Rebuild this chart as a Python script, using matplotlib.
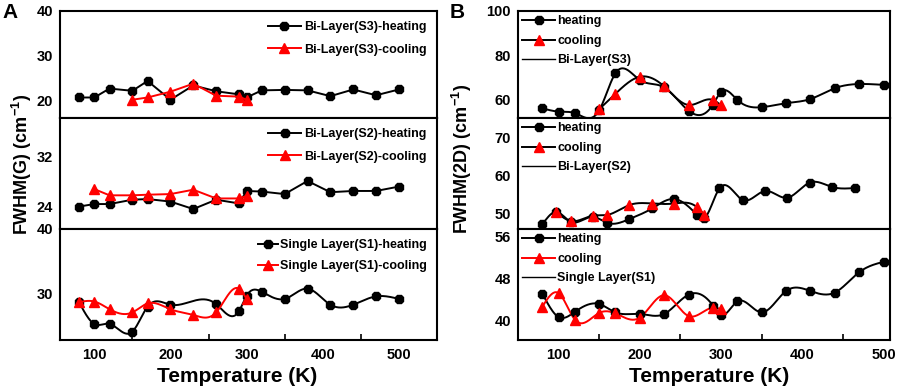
import numpy as np
import matplotlib
matplotlib.use("Agg")
from matplotlib import pyplot as plt
from matplotlib.lines import Line2D

# --- data -------------------------------------------------------------------
temps = [80, 100, 120, 150, 170, 200, 230, 260, 290, 300, 320, 350, 380, 410, 440, 470, 500]
temps_cool = [150, 170, 200, 230, 260, 290, 300]
temps_cool_s2 = [100, 120, 150, 170, 200, 230, 260, 290, 300]
temps_cool_s1 = [80, 100, 120, 150, 170, 200, 230, 260, 290, 300]
temps_s1_heat_g = [80, 100, 120, 150, 170, 200, 260, 290, 300, 320, 350, 380, 410, 440, 470, 500]

# panel A: FWHM(G)
g_s3_heat = [20.6, 20.6, 22.6, 22.1, 24.3, 20.1, 23.3, 22.0, 21.3, 20.6, 22.2, 22.3, 22.2, 20.9, 22.4, 21.1, 22.4]
g_s3_cool = [20.1, 20.6, 21.9, 23.7, 21.0, 20.8, 20.1]
g_s2_heat = [24.0, 24.4, 24.4, 25.1, 25.2, 24.8, 23.6, 25.1, 24.5, 26.5, 26.4, 26.0, 28.1, 26.3, 26.5, 26.5, 27.2]
g_s2_cool = [26.8, 25.8, 25.8, 25.9, 26.0, 26.7, 25.3, 25.3, 25.7]
g_s1_heat = [28.6, 25.2, 25.2, 24.0, 27.9, 28.2, 28.3, 27.2, 29.6, 30.2, 29.1, 30.7, 28.2, 28.2, 29.5, 29.1]
g_s1_cool = [28.6, 28.7, 27.5, 27.0, 28.4, 27.5, 26.6, 27.0, 30.7, 29.1]

# panel B: FWHM(2D)
d_s3_heat = [55.9, 54.4, 53.7, 55.0, 71.8, 68.7, 65.4, 54.8, 57.6, 63.4, 59.7, 56.4, 58.2, 60.1, 65.0, 66.9, 66.5]
d_s3_cool = [55.5, 62.5, 70.2, 65.8, 57.4, 59.7, 57.2]
# S2 curve is drawn on a squeezed temperature scale in the original figure
temps_s2_heat_2d = [80, 97, 115, 142, 160, 187, 215, 242, 270, 279, 298, 327, 354, 381, 409, 436, 465]
temps_s2_cool_2d = [97, 115, 142, 160, 187, 215, 242, 270, 279]
d_s2_heat = [47.1, 50.4, 47.8, 49.1, 47.5, 48.5, 51.3, 53.8, 49.7, 48.7, 56.6, 53.5, 55.9, 54.1, 58.1, 57.0, 56.7]
d_s2_cool = [50.4, 48.0, 49.4, 49.6, 52.2, 52.6, 52.6, 51.7, 49.7]
d_s1_heat = [45.1, 40.6, 41.6, 43.1, 41.5, 41.2, 41.2, 44.9, 42.8, 41.0, 43.6, 41.5, 45.6, 45.6, 45.3, 49.2, 51.2]
d_s1_cool = [42.6, 45.2, 40.1, 41.4, 41.3, 40.5, 44.8, 40.8, 42.4, 42.1]

plt.rcParams["font.family"] = ["Liberation Sans", "DejaVu Sans"]
plt.rcParams["font.weight"] = "bold"
plt.rcParams["mathtext.default"] = "regular"

RED = "#ff0000"
W, H = 899, 389


def smooth(x, y, n=400):
    # natural cubic spline through the points, only for drawing the line
    x = np.asarray(x, float)
    y = np.asarray(y, float)
    k = len(x)
    h = np.diff(x)
    A = np.zeros((k, k))
    b = np.zeros(k)
    A[0, 0] = A[-1, -1] = 1
    for i in range(1, k - 1):
        A[i, i - 1] = h[i - 1]
        A[i, i] = 2 * (h[i - 1] + h[i])
        A[i, i + 1] = h[i]
        b[i] = 6 * ((y[i + 1] - y[i]) / h[i] - (y[i] - y[i - 1]) / h[i - 1])
    M = np.linalg.solve(A, b)
    xs = np.linspace(x[0], x[-1], n)
    idx = np.clip(np.searchsorted(x, xs) - 1, 0, k - 2)
    x0, x1 = x[idx], x[idx + 1]
    hh = x1 - x0
    t0, t1 = x1 - xs, xs - x0
    ys = (M[idx] * t0 ** 3 + M[idx + 1] * t1 ** 3) / (6 * hh) \
        + (y[idx] / hh - M[idx] * hh / 6) * t0 + (y[idx + 1] / hh - M[idx + 1] * hh / 6) * t1
    return xs, ys


def px_axes(fig, left, top, right, bottom):
    return fig.add_axes([left / W, 1 - bottom / H, (right - left) / W, (bottom - top) / H])


def style(ax, xlim, ylim, yticks, bottom):
    ax.set_xlim(*xlim)
    ax.set_ylim(*ylim)
    ax.set_yticks(yticks)
    for s in ax.spines.values():
        s.set_linewidth(1.5)
    ax.tick_params(axis="y", length=0, pad=5, labelsize=10.5)
    ax.set_xticks([100, 200, 300, 400, 500])
    ax.set_xticks([150, 250, 350, 450], minor=True)
    ax.tick_params(axis="x", which="major", length=0, pad=6, labelsize=10.5)
    if bottom:
        ax.tick_params(axis="x", which="minor", direction="in", length=4, width=1.2)
    else:
        ax.tick_params(axis="x", which="minor", length=0)
        ax.set_xticklabels([])


fig = plt.figure(figsize=(W / 100, H / 100), dpi=100)

rows = [(11, 118), (118, 229), (229, 340)]
ax_a = [px_axes(fig, 60, t, 437, b) for t, b in rows]
ax_b = [px_axes(fig, 518, t, 890, b) for t, b in rows]

hk = dict(color="black", marker="8", markersize=6.5, lw=1.4)
ck = dict(marker="^", markersize=7, mfc=RED, mec=RED, lw=1.4)
legA = dict(loc="upper right", frameon=False, handlelength=2.6, handletextpad=0.3,
            labelspacing=0.85, borderaxespad=0.4, prop={"weight": "bold", "size": 9})

# ---- panel A ---------------------------------------------------------------
ax = ax_a[0]
ax.plot(temps, g_s3_heat, label="Bi-Layer(S3)-heating", **hk)
ax.plot(temps_cool, g_s3_cool, color=RED, label="Bi-Layer(S3)-cooling", **ck)
style(ax, (55, 550), (16, 40), [20, 30, 40], False)
ax.legend(**legA)

ax = ax_a[1]
ax.plot(temps, g_s2_heat, label="Bi-Layer(S2)-heating", **hk)
ax.plot(temps_cool_s2, g_s2_cool, color=RED, label="Bi-Layer(S2)-cooling", **ck)
style(ax, (55, 550), (20.4, 38.2), [24, 32], False)
ax.legend(**legA)

ax = ax_a[2]
ax.plot(*smooth(temps_s1_heat_g, g_s1_heat), color="black", lw=1.4)
ax.plot(temps_s1_heat_g, g_s1_heat, ls="none", color="black", marker="8", markersize=6.5)
ax.plot(*smooth(temps_cool_s1, g_s1_cool), color=RED, lw=1.4)
ax.plot(temps_cool_s1, g_s1_cool, ls="none", marker="^", markersize=7, color=RED)
style(ax, (55, 550), (22.7, 40), [30, 40], True)
ax.legend(handles=[Line2D([], [], label="Single Layer(S1)-heating", **hk),
                   Line2D([], [], color=RED, label="Single Layer(S1)-cooling", **ck)],
          **{**legA, "handlelength": 1.6, "handletextpad": 0.2, "labelspacing": 0.75})

# ---- panel B ---------------------------------------------------------------
legB = dict(loc="upper left", frameon=False, handlelength=2.6, handletextpad=0.2,
            labelspacing=0.6, borderaxespad=0.25, borderpad=0.1,
            prop={"weight": "bold", "size": 9})


def panel_b(ax, xh, yh, xc, yc, cool_line, name, xlim, ylim, yticks, bottom):
    ax.plot(*smooth(xh, yh), color="black", lw=1.4)
    ax.plot(*smooth(xc, yc), color=cool_line, lw=1.4)
    ax.plot(xh, yh, ls="none", color="black", marker="8", markersize=6.5)
    ax.plot(xc, yc, ls="none", marker="^", markersize=7, color=RED)
    style(ax, xlim, ylim, yticks, bottom)
    ax.legend(handles=[Line2D([], [], label="heating", **hk),
                       Line2D([], [], color=cool_line, label="cooling", **ck),
                       Line2D([], [], color="black", lw=1.0, label=name)], **legB)


panel_b(ax_b[0], temps, d_s3_heat, temps_cool, d_s3_cool, "black", "Bi-Layer(S3)",
        (50, 508), (51.5, 100), [60, 80, 100], False)
panel_b(ax_b[1], temps_s2_heat_2d, d_s2_heat, temps_s2_cool_2d, d_s2_cool, "black", "Bi-Layer(S2)",
        (50, 508), (45.9, 75.1), [50, 60, 70], False)
panel_b(ax_b[2], temps, d_s1_heat, temps_cool_s1, d_s1_cool, RED, "Single Layer(S1)",
        (50, 508), (36.2, 57.5), [40, 48, 56], True)

# ---- labels ----------------------------------------------------------------
fig.text(22 / W, 1 - 164 / H, "FWHM(G) (cm$^{-1}$)", rotation=90, ha="center", va="center",
         fontsize=13, fontweight="bold")
fig.text(462 / W, 1 - 159 / H, "FWHM(2D) (cm$^{-1}$)", rotation=90, ha="center", va="center",
         fontsize=13, fontweight="bold")
fig.text(237 / W, 1 - 376 / H, "Temperature (K)", ha="center", va="center", fontsize=15, fontweight="bold")
fig.text(709 / W, 1 - 376 / H, "Temperature (K)", ha="center", va="center", fontsize=15, fontweight="bold")
fig.text(10 / W, 1 - 13 / H, "A", ha="center", va="center", fontsize=15, fontweight="bold")
fig.text(457 / W, 1 - 13 / H, "B", ha="center", va="center", fontsize=15, fontweight="bold")

fig.savefig("out.png", dpi=100)
